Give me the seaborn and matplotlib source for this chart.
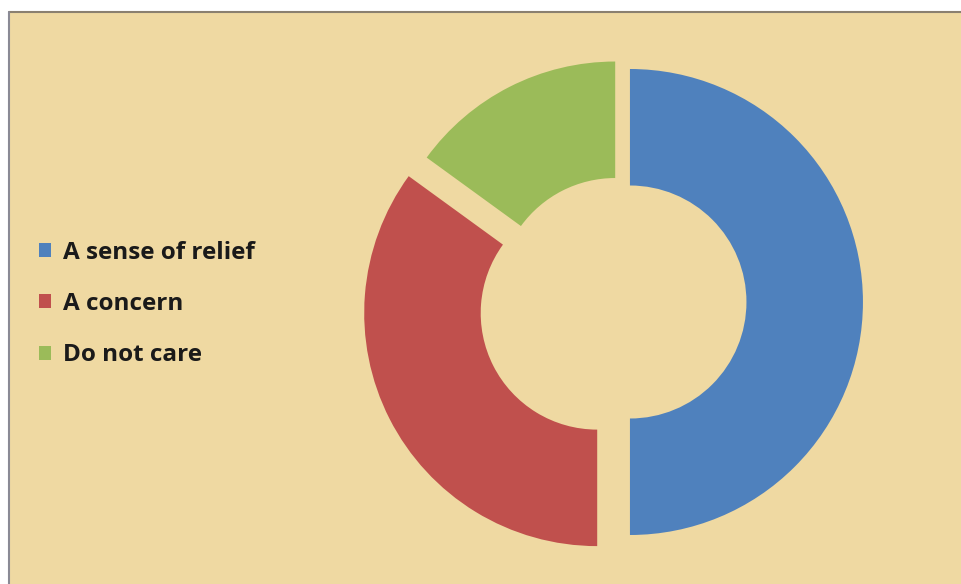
import matplotlib
matplotlib.use("Agg")
import matplotlib.pyplot as plt
import seaborn as sns
from matplotlib.patches import Rectangle

# data (share of answers, %)
labels = ["A sense of relief", "A concern", "Do not care"]
shares = [50, 35, 15]
colors = ["#4F81BD", "#C0504D", "#9BBB59"]
explode = [0.047, 0.105, 0.036]

sns.set_style("white")
plt.rcParams["font.family"] = ["Open Sans", "DejaVu Sans"]

W, H = 961, 584
fig = plt.figure(figsize=(W / 100, H / 100), dpi=100)
fig.patch.set_facecolor("white")

# parchment-like panel with a thin grey frame on top and left
fig.patches.append(Rectangle((9 / W, 0), 1 - 9 / W, 1 - 12 / H,
                             transform=fig.transFigure, facecolor="#EFD9A2",
                             edgecolor="none", zorder=-5))
fig.add_artist(plt.Line2D([9 / W, 1], [1 - 12 / H, 1 - 12 / H], transform=fig.transFigure,
                          color="#8a8070", lw=1.5, zorder=-4))
fig.add_artist(plt.Line2D([9 / W, 9 / W], [0, 1 - 12 / H], transform=fig.transFigure,
                          color="#8a8a95", lw=1.5, zorder=-4))

# donut: centre ~ (619, 302) px, outer radius ~233 px
cx, cy, R = 619, H - 302, 233
half = 1.3 * R
ax = fig.add_axes([(cx - half) / W, (cy - half) / H, 2 * half / W, 2 * half / H])
ax.set_zorder(2)
ax.set_facecolor("none")
wedges, _ = ax.pie(shares, colors=colors, explode=explode, startangle=90,
                   counterclock=False, radius=1.0,
                   wedgeprops=dict(width=0.5, edgecolor="none"))
ax.set_xlim(-1.3, 1.3)
ax.set_ylim(-1.3, 1.3)
ax.set_aspect("equal")
ax.axis("off")

leg = fig.legend(wedges, labels, loc="center left",
                 bbox_to_anchor=(17 / W, 1 - 304 / H), frameon=False,
                 prop=dict(family=["Open Sans", "DejaVu Sans"], size=17.5, weight="bold"),
                 handlelength=0.5, handleheight=0.5, handletextpad=0.5,
                 labelspacing=1.12)
leg.set_zorder(3)
for t in leg.get_texts():
    t.set_color("#1a1a1a")

fig.savefig("out.png", dpi=100)
